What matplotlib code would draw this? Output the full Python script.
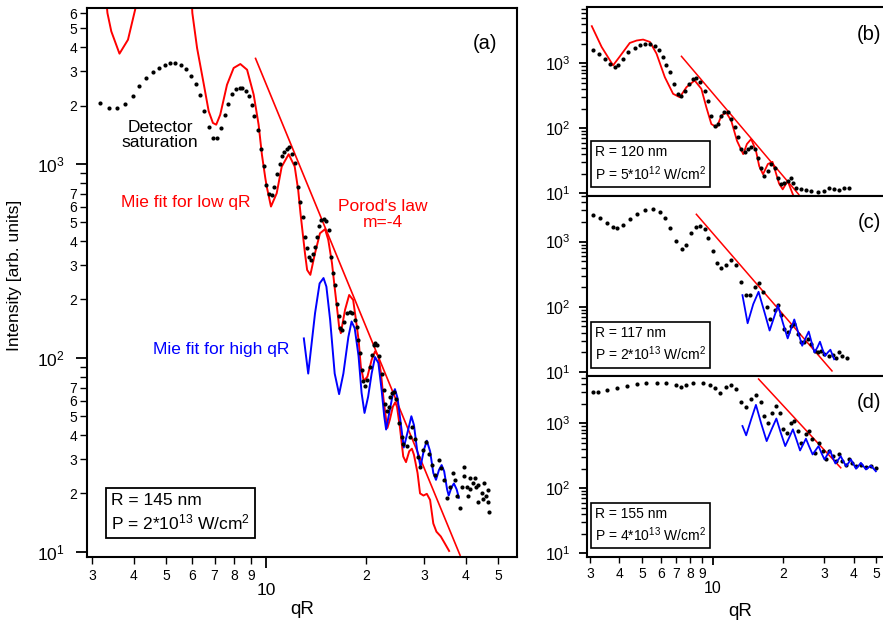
import numpy as np
import matplotlib.pyplot as plt
from matplotlib.ticker import FixedLocator, FixedFormatter, NullFormatter

plt.rcParams['font.family'] = ['Liberation Sans', 'DejaVu Sans']
plt.rcParams['mathtext.fontset'] = 'custom'
plt.rcParams['mathtext.rm'] = 'Liberation Sans'

# ---- panel (a): measured points ----
qR_a = [3.17, 3.37, 3.56, 3.77, 3.97, 4.15, 4.36, 4.56, 4.75, 4.95, 5.15, 5.33, 5.55, 5.74, 5.95, 6.14,
        6.33, 6.52, 6.72, 6.92, 7.12, 7.32, 7.51, 7.70, 7.90, 8.10, 8.33, 8.47, 8.69, 8.89, 9.06, 9.22,
        9.44, 9.66, 9.86, 10.02,
        10.23, 10.4, 10.6, 10.8, 11.0, 11.2, 11.35, 11.54, 11.75, 11.97, 12.25, 12.5, 12.7, 12.93, 13.14,
        13.32, 13.5, 13.7, 13.9, 14.08, 14.27, 14.44, 14.66, 14.9, 15.13, 15.44, 15.73, 15.94, 16.17, 16.4,
        16.63, 16.71, 16.9, 17.2, 17.5, 17.9, 18.15, 18.54, 18.76, 18.97, 19.2, 19.4, 19.65, 19.87, 20.2,
        20.6, 20.8, 21.1, 21.3, 21.6, 21.9, 22.3, 22.6, 22.8, 23.1, 23.4, 23.6, 23.9, 24.3, 24.7, 25.2,
        25.6, 25.9, 26.5, 27.1, 27.6, 28.1, 28.7, 29.1, 29.8, 30.4, 31.0, 31.6, 32.3, 33.1, 33.6, 34.4,
        35.1, 35.8, 36.5, 37.1, 37.7, 38.4, 38.8, 39.5, 39.6, 40.3, 41.1, 42.1, 42.9, 43.6, 44.6, 45.4,
        46.0, 46.5, 47.0, 46.6, 42.6, 41.1, 43.6, 40.7, 44.9]
I_a = [2050, 1945, 1945, 2037, 2249, 2533, 2786, 2980, 3135, 3236, 3327, 3318, 3228, 3090, 2851, 2583,
       2259, 1869, 1556, 1366, 1366, 1533, 1782, 2046, 2296, 2436, 2472, 2472, 2390, 2233, 2008, 1762,
       1492, 1199, 973, 782,
       700, 690, 764, 888, 1000, 1100, 1157, 1199, 1220, 1126, 1015, 764, 640, 530, 418,
       367, 330, 320, 345, 375, 422, 479, 514, 522, 508, 457, 333, 273, 238, 190,
       164, 142, 139, 154, 170, 173, 170, 157, 144, 124, 106, 87, 76, 72, 77,
       90, 104, 116, 119, 116, 102, 83, 68, 58, 53, 56, 63, 66, 67, 61, 46,
       39, 36, 35, 39, 44, 38, 31, 27.5, 33.6, 37, 32, 28, 25, 29.8, 27, 23.5,
       19, 21.5, 25.5, 23.5, 19.5, 16.8, 21.5, 27.5, 24.5, 21.5, 21, 22.5, 21.5, 18, 20, 22.5,
       19.5, 18, 16, 20.8, 24, 24, 22, 19.5, 18.7]

# panel (a): Mie fit for low qR (gap where it leaves the axes)
qR_a_low = [3.28, 3.33, 3.42, 3.62, 3.84, 4.04, 4.12, np.nan, 5.95, 6.0, 6.2, 6.5, 6.72, 6.92, 7.08, 7.28,
            7.63, 7.99, 8.37, 8.77, 9.18, 9.50, 9.72, 9.95, 10.05, 10.35, 10.77, 11.15, 11.7, 12.2, 12.5,
            12.7, 13.1, 13.3, 13.6, 14.05, 14.54, 15.06, 15.4, 15.8, 16.1, 16.4, 16.6, 16.8, 17.3, 17.8,
            18.3, 18.6, 19.0, 19.3, 19.7, 20.2, 20.8, 21.3, 21.8, 22.2, 22.6, 23.0, 23.2, 23.6, 24.1,
            24.5, 24.8, 25.3, 25.9, 26.4, 27.0, 27.5, 27.9, 28.6, 29.1, 29.8, 30.5, 31.2, 31.9, 32.6,
            33.6, 34.6, 35.6]
I_a_low = [8000, 6000, 4830, 3704, 4372, 6300, 8000, np.nan, 8000, 6000, 3960, 2560, 1870, 1627, 1594, 1794,
           2560, 3125, 3275, 3060, 2277, 1594, 1117, 847, 764, 603, 706, 968, 1122, 970, 734,
           557, 347, 284, 268, 347, 439, 461, 406, 308, 230, 175, 145, 134, 177, 211,
           199, 163, 124, 90, 76, 80, 97.7, 108, 102, 83, 60.8, 48, 43.5, 48, 56,
           59, 56, 44, 31, 29, 33, 34, 31.6, 25.5, 20, 19.5, 19.9, 18.5, 14.0, 12.7,
           12.0, 11.0, 10.1]

# panel (a): Mie fit for high qR
qR_a_high = [13.0, 13.4, 14.05, 14.5, 14.9, 15.2, 15.6, 16.1, 16.6, 17.1, 17.7, 18.1, 18.5, 19.0, 19.4,
             19.8, 20.3, 20.8, 21.3, 21.8, 22.3, 22.7, 23.0, 23.6, 24.1, 24.45, 24.9, 25.6, 26.0, 26.8,
             27.4, 27.9, 28.5, 29.2, 29.9, 30.5, 31.2, 31.9, 32.5, 33.2, 33.8, 34.4, 35.1, 35.5, 36.2,
             36.8, 37.5, 38.1]
I_a_high = [126, 83, 170, 242, 258, 233, 157, 83, 65, 83, 128, 154, 142, 102, 66,
            52, 63, 83, 101, 94, 68, 50, 42.7, 54, 65, 69, 62, 42.6, 34.5, 42.6,
            50, 45, 33.6, 27.5, 33.6, 37.4, 33, 25.5, 23.5, 26.5, 28, 26, 21, 19.5, 21.5,
            22.5, 21, 19]

# Porod lines (end points)
qR_a_porod = [9.3, 38.4]
I_a_porod = [3500, 9.6]

# ---- panel (b) ----
qR_b = [3.10, 3.28, 3.47, 3.64, 3.83, 3.95, 4.15, 4.36, 4.66, 4.89, 5.14, 5.40, 5.67, 5.91, 6.14, 6.35,
        6.56, 6.82, 7.12, 7.36, 7.60, 7.93, 8.25, 8.52, 8.87, 9.25, 9.55, 9.87, 10.2, 10.5, 10.9, 11.2,
        11.6, 12.0, 12.4, 12.8, 13.2, 13.7, 14.1, 14.6, 15.1, 15.6, 16.1, 16.6, 17.2, 17.8, 18.4, 19.0,
        19.6, 20.2, 20.9, 21.5, 22.0, 22.7, 23.8, 25.0, 26.3, 28.1, 30.0, 31.5, 33.0, 34.7, 36.5, 38.3]
I_b = [1591, 1413, 1183, 989, 876, 931, 1183, 1497, 1726, 1901, 1971, 1971, 1854, 1591, 1252, 931,
       733, 484, 339, 319, 381, 484, 565, 592, 513, 381, 267, 156, 109, 116, 156, 180,
       176, 139, 103, 72, 47.6, 42.2, 47.6, 50.4, 47.6, 35.2, 24.7, 18.4, 21.9, 27.9, 24.7, 17.3,
       13.6, 14.4, 15.3, 17.3, 14.4, 12.1, 11.4, 11.0, 10.7, 10.5, 10.7, 12.1, 11.4, 11.0, 11.8, 12.1]
qR_b_fit = [3.05, 3.36, 3.76, 4.0, 4.43, 4.74, 5.05, 5.40, 5.76, 6.25, 6.78, 7.24, 7.73, 8.38, 8.95,
            9.4, 9.87, 10.4, 10.9, 11.4, 12.0, 12.7, 13.5, 14.0, 14.6, 15.3, 15.8, 16.4, 17.2, 18.0,
            18.5, 19.2, 19.9, 20.9, 22.0]
I_b_fit = [3750, 1790, 931, 1252, 2064, 2250, 2328, 2140, 1413, 613, 339, 300, 429, 545, 405,
           210, 116, 103, 156, 176, 131, 64, 39.8, 57, 68, 45, 26, 19.5, 28, 30.3,
           22, 14, 11.4, 15.3, 9.5]
qR_b_porod = [7.36, 23.3]
I_b_porod = [1284, 9.5]

# ---- panel (c) ----
qR_c = [3.10, 3.31, 3.53, 3.76, 3.92, 4.15, 4.43, 4.74, 5.14, 5.57, 5.95, 6.25, 6.56, 7.01, 7.43, 7.73,
        8.12, 8.52, 8.87, 9.25, 9.55, 10.0, 10.4, 10.9, 11.4, 12.0, 12.6, 13.2, 13.9, 14.5, 15.1, 15.8,
        16.4, 17.0, 17.6, 18.4, 19.0, 19.6, 20.2, 20.9, 21.6, 22.3, 23.1, 23.8, 24.6, 25.4, 26.3, 27.2,
        28.1, 29.0, 30.0, 31.3, 32.5, 33.6, 34.7, 35.8, 37.6]
I_c = [2557, 2274, 1950, 1690, 1631, 1789, 2193, 2689, 3057, 3213, 2887, 2330, 1631, 1011, 770, 898,
       1364, 1690, 1727, 1535, 1141, 707, 467, 391, 440, 526, 440, 242, 151, 151, 203, 229,
       170, 99.3, 65.6, 88.3, 105.5, 73.8, 45.9, 40.6, 51.7, 55, 38.4, 28.5, 28.5, 32.1, 26.9, 21.2,
       20.0, 21.2, 18.8, 17.7, 18.2, 16.7, 20.0, 17.7, 16.7]
qR_c_fit = [13.4, 14.1, 14.9, 15.7, 16.6, 17.5, 18.3, 19.0, 19.9, 20.9, 21.6, 22.3, 23.2, 24.1, 24.9,
            25.7, 26.4, 27.2, 28.0, 28.7, 29.4, 30.2, 31.0, 31.8, 33.0]
I_c_fit = [151, 56, 110, 170, 85, 43.3, 70, 105.5, 58, 32.8, 46, 64, 40, 25.3, 33,
           41.8, 29, 20, 24, 29.2, 22.5, 17.7, 20, 22, 15.7]
qR_c_porod = [8.52, 32.3]
I_c_porod = [2622, 10.4]

# ---- panel (d) ----
qR_d = [3.10, 3.25, 3.53, 3.89, 4.29, 4.74, 5.22, 5.76, 6.35, 7.01, 7.36, 7.73, 8.25, 9.09, 9.71, 10.2,
        10.7, 11.4, 12.0, 12.6, 13.2, 13.9, 14.6, 15.3, 16.1, 16.6, 17.2, 17.9, 18.7, 19.4, 20.0, 20.7,
        21.6, 22.3, 23.1, 23.8, 24.9, 25.7, 26.6, 27.4, 28.3, 29.5, 30.5, 31.5, 32.5, 33.6, 34.7, 35.8,
        37.1, 38.3, 39.5, 40.9, 42.9, 45.1, 47.3, 49.7]
I_d = [3057, 3057, 3248, 3488, 3786, 4025, 4170, 4170, 4126, 3925, 3577, 3925, 4170, 4170, 3925, 3451,
       2887, 3577, 3925, 3366, 2094, 1751, 2356, 2717, 2094, 1298, 1025, 1465, 1855, 1465, 807, 718,
       1025, 1086, 760, 502, 675, 760, 565, 351, 502, 372, 277, 372, 311, 260, 331, 260,
       231, 277, 246, 218, 231, 213, 223, 206]
qR_d_fit = [13.4, 13.9, 14.6, 15.3, 16.1, 17.0, 17.8, 18.7, 19.5, 20.4, 21.2, 22.0, 22.8, 23.6, 24.3,
            25.0, 25.8, 26.7, 27.5, 28.3, 29.1, 30.0, 30.8, 31.7, 32.5, 33.4, 34.3, 35.2, 36.1, 37.1,
            38.0, 38.9, 39.9, 40.9, 41.9, 42.9, 44.0, 45.1, 46.2, 47.3, 48.5, 49.7]
I_d_fit = [908, 652, 1150, 1921, 1000, 531, 790, 1183, 725, 445, 600, 807, 555, 381, 470,
           579, 440, 331, 385, 445, 350, 277, 325, 381, 300, 240, 273, 311, 260, 218,
           245, 277, 235, 199, 221, 246, 218, 194, 208, 223, 201, 182]
qR_d_porod = [15.7, 35.2]
I_d_porod = [4808, 206]

x_minor = [3, 4, 5, 6, 7, 8, 9, 20, 30, 40, 50]
x_minor_labels = ['3', '4', '5', '6', '7', '8', '9', '2', '3', '4', '5']
y_major = [10, 100, 1000]
y_major_labels = [r'$\mathregular{10^{1}}$', r'$\mathregular{10^{2}}$', r'$\mathregular{10^{3}}$']
y_minor = [m * 10 ** k for k in (1, 2, 3) for m in range(2, 10)]
y_minor_labels = [str(m) if m <= 7 else '' for k in (1, 2, 3) for m in range(2, 10)]

RED = '#ff0000'
BLUE = '#0000ff'


def setup_axes(ax, xlim, ylim, xlabels, ylabels_minor, big):
    ax.set_xscale('log')
    ax.set_yscale('log')
    ax.set_xlim(*xlim)
    ax.set_ylim(*ylim)
    ax.xaxis.set_major_locator(FixedLocator([10]))
    ax.xaxis.set_minor_locator(FixedLocator(x_minor))
    if xlabels:
        ax.xaxis.set_major_formatter(FixedFormatter(['10']))
        ax.xaxis.set_minor_formatter(FixedFormatter(x_minor_labels))
    else:
        ax.xaxis.set_major_formatter(NullFormatter())
        ax.xaxis.set_minor_formatter(NullFormatter())
    ax.yaxis.set_major_locator(FixedLocator(y_major))
    ax.yaxis.set_major_formatter(FixedFormatter(y_major_labels))
    ax.yaxis.set_minor_locator(FixedLocator(y_minor))
    if ylabels_minor:
        ax.yaxis.set_minor_formatter(FixedFormatter(y_minor_labels))
    else:
        ax.yaxis.set_minor_formatter(NullFormatter())
    for s in ax.spines.values():
        s.set_linewidth(1.5)
    if big:
        ax.tick_params(axis='both', which='major', direction='out', length=8, width=1.3, labelsize=12.5)
        ax.tick_params(axis='both', which='minor', direction='out', length=5, width=1.0, labelsize=10)
        ax.tick_params(axis='y', which='major', pad=8)
        ax.tick_params(axis='y', which='minor', pad=2)
        ax.tick_params(axis='x', which='major', pad=11)
        ax.tick_params(axis='x', which='minor', pad=4)
    else:
        ax.tick_params(axis='both', which='major', direction='out', length=6, width=1.3, labelsize=11.5)
        ax.tick_params(axis='both', which='minor', direction='out', length=4, width=1.0, labelsize=10)
        ax.tick_params(axis='y', which='major', pad=6)
        ax.tick_params(axis='x', which='major', pad=11)
        ax.tick_params(axis='x', which='minor', pad=3)


fig = plt.figure(figsize=(8.83, 6.23), dpi=100)
W, H = 883.0, 623.0


def add_ax(left, top, right, bottom):
    return fig.add_axes([left / W, 1 - bottom / H, (right - left) / W, (bottom - top) / H])


# panel (a)
ax = add_ax(87, 8, 517, 557)
setup_axes(ax, (2.89, 57), (9.4, 6370), True, True, True)
ax.plot(qR_a_low, I_a_low, color=RED, lw=1.4)
ax.plot(qR_a_porod, I_a_porod, color=RED, lw=1.2)
ax.plot(qR_a_high, I_a_high, color=BLUE, lw=1.4)
ax.plot(qR_a, I_a, 'o', color='k', ms=3.0, mec='none')
ax.text(4.8, 1410, 'Detector\nsaturation', color='k', fontsize=12.5, ha='center', va='center',
        linespacing=1.05)
ax.text(5.74, 630, 'Mie fit for low qR', color=RED, fontsize=12.5, ha='center', va='center')
ax.text(22.5, 549, "Porod's law\nm=-4", color=RED, fontsize=12.5, ha='center', va='center',
        linespacing=1.05)
ax.text(7.35, 110, 'Mie fit for high qR', color=BLUE, fontsize=12.5, ha='center', va='center')
ax.text(0.953, 0.936, '(a)', transform=ax.transAxes, fontsize=14.5, ha='right', va='center')
ax.text(0.056, 0.045, 'R = 145 nm\nP = 2*10$\\mathregular{^{13}}$ W/cm$\\mathregular{^{2}}$',
        transform=ax.transAxes, fontsize=12.5, ha='left', va='bottom', linespacing=1.25,
        bbox=dict(boxstyle='square,pad=0.3', fc='white', ec='k', lw=1.3))
ax.set_xlabel('qR', fontsize=13.5, labelpad=2)
fig.text(15 / W, 1 - 275 / H, 'Intensity [arb. units]', rotation=90, fontsize=12.5,
         ha='center', va='center')

# right column (stacked panels share their border lines)
right_edge = 900
xlim_r = (2.91, 63)

axb = add_ax(587, 7, right_edge, 196)
setup_axes(axb, xlim_r, (9.0, 7400), False, False, False)
axb.plot(qR_b_fit, I_b_fit, color=RED, lw=1.3)
axb.plot(qR_b_porod, I_b_porod, color=RED, lw=1.1)
axb.plot(qR_b, I_b, 'o', color='k', ms=3.0, mec='none')

axc = add_ax(587, 196, right_edge, 376)
setup_axes(axc, xlim_r, (8.7, 5000), False, False, False)
axc.plot(qR_c_porod, I_c_porod, color=RED, lw=1.1)
axc.plot(qR_c, I_c, 'o', color='k', ms=3.0, mec='none')
axc.plot(qR_c_fit, I_c_fit, color=BLUE, lw=1.3)

axd = add_ax(587, 376, right_edge, 557)
setup_axes(axd, xlim_r, (8.7, 5350), True, False, False)
axd.plot(qR_d_porod, I_d_porod, color=RED, lw=1.1)
axd.plot(qR_d, I_d, 'o', color='k', ms=3.0, mec='none')
axd.plot(qR_d_fit, I_d_fit, color=BLUE, lw=1.3)
axd.set_xlabel('qR', fontsize=13.5, labelpad=0)
axd.xaxis.set_label_coords((740 - 587) / (right_edge - 587), -0.255)

boxes = [(axb, '(b)', '120', '5*10', '12'),
         (axc, '(c)', '117', '2*10', '13'),
         (axd, '(d)', '155', '4*10', '13')]
for a, lab, r, p, e in boxes:
    a.text(0.939, 0.853, lab, transform=a.transAxes, fontsize=14.5, ha='right', va='center')
    a.text(0.025, 0.07, 'R = %s nm\nP = %s$\\mathregular{^{%s}}$ W/cm$\\mathregular{^{2}}$' % (r, p, e),
           transform=a.transAxes, fontsize=10, ha='left', va='bottom', linespacing=1.3,
           bbox=dict(boxstyle='square,pad=0.3', fc='white', ec='k', lw=1.2))

fig.savefig('out.png', dpi=100)
